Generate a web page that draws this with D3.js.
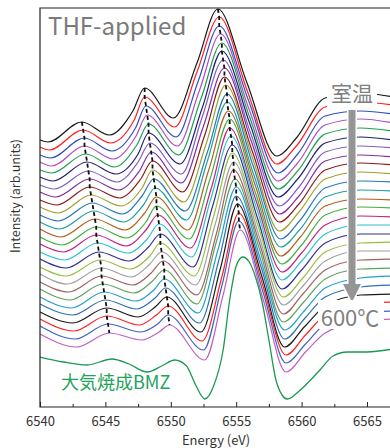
<!DOCTYPE html>
<html>
<head>
<meta charset="utf-8">
<script src="https://cdn.jsdelivr.net/npm/d3@7"></script>
<style>
  body { margin: 0; background: #fff; }
  text { font-family: "Noto Sans CJK JP", "Noto Sans", sans-serif; }
</style>
</head>
<body>
<svg id="chart" width="390" height="448"></svg>
<script>
// axis ticks (eV)
const xTicks = [6540, 6545, 6550, 6555, 6560, 6565];
const xMinorTicks = [6542.5, 6547.5, 6552.5, 6557.5, 6562.5];

// spectra from room temperature (top) down to 600 C (bottom), one entry per spectrum
const lineColors = ["#1a1a1a", "#ff2020", "#3050c0", "#b050c0", "#20a050", "#202070", "#8060c0",
  "#8030a0", "#8b1a1a", "#a0a030", "#2878b8", "#20a0a0", "#b06020", "#40b040", "#c02080",
  "#30c0d0", "#303090", "#98c040", "#a0a0a0", "#a06060", "#60a060", "#20a0d0", "#3070b0",
  "#1a1a1a", "#ff2020", "#4060c0", "#c060c0"];

// energies shared by all spectra: start, and three points on the post-edge
const sharedE = [6540, 6561.8, 6564.5, 6567];

// intensity (offset, arb. units) at 6540 eV
const startI = [267, 260, 252, 245, 237, 230, 222, 215, 207, 200, 192, 185, 178, 170, 163, 155, 148, 140, 133, 125, 118, 110, 103, 95, 88, 81, 73];
// small dip before the pre-edge shoulder
const dip0E = [6540.6, 6540.7, 6540.8, 6540.9, 6540.9, 6541.0, 6541.1, 6541.2, 6541.3, 6541.4, 6541.4, 6541.5, 6541.6, 6541.7, 6541.8, 6541.9, 6542.0, 6542.0, 6542.1, 6542.2, 6542.3, 6542.4, 6542.5, 6542.5, 6542.6, 6542.7, 6542.8];
const dip0I = [265, 257, 249, 241, 234, 226, 218, 210, 202, 194, 186, 178, 170, 162, 155, 147, 139, 131, 123, 115, 107, 99, 92, 84, 76, 68, 60];
// pre-edge peak (first dashed line)
const prePeakE = [6543.2, 6543.3, 6543.4, 6543.4, 6543.5, 6543.6, 6543.7, 6543.8, 6543.8, 6543.9, 6544.0, 6544.1, 6544.2, 6544.3, 6544.3, 6544.4, 6544.5, 6544.6, 6544.7, 6544.7, 6544.8, 6544.9, 6545.0, 6545.1, 6545.1, 6545.2, 6545.3];
const prePeakI = [285, 277, 269, 261, 253, 245, 236, 228, 220, 212, 204, 196, 188, 180, 172, 164, 155, 147, 139, 131, 123, 115, 107, 99, 91, 83, 74];
// valley after it
const dip1E = [6545.3, 6545.4, 6545.5, 6545.6, 6545.7, 6545.8, 6545.9, 6546.0, 6546.1, 6546.2, 6546.3, 6546.4, 6546.5, 6546.6, 6546.6, 6546.7, 6546.8, 6546.9, 6547.0, 6547.1, 6547.2, 6547.3, 6547.4, 6547.5, 6547.6, 6547.7, 6547.8];
const dip1I = [272, 264, 256, 248, 240, 233, 225, 217, 209, 201, 193, 185, 177, 169, 161, 154, 146, 138, 130, 122, 114, 106, 98, 90, 82, 75, 67];
const rise1E = [6547.1, 6547.2, 6547.3, 6547.3, 6547.4, 6547.5, 6547.5, 6547.6, 6547.7, 6547.8, 6547.8, 6547.9, 6548.0, 6548.1, 6548.1, 6548.2, 6548.3, 6548.4, 6548.4, 6548.5, 6548.6, 6548.7, 6548.8, 6548.8, 6548.9, 6549.0, 6549.1];
const rise1I = [296, 287, 279, 270, 262, 253, 245, 236, 228, 219, 211, 202, 194, 185, 177, 168, 160, 151, 143, 134, 126, 117, 109, 100, 92, 83, 75];
// second peak (second dashed line)
const peak2E = [6548.0, 6548.0, 6548.1, 6548.2, 6548.3, 6548.3, 6548.4, 6548.5, 6548.6, 6548.6, 6548.7, 6548.8, 6548.9, 6548.9, 6549.0, 6549.1, 6549.2, 6549.2, 6549.3, 6549.4, 6549.5, 6549.5, 6549.6, 6549.7, 6549.8, 6549.8, 6549.9];
const peak2I = [319, 310, 301, 292, 283, 274, 264, 255, 246, 237, 228, 219, 210, 201, 192, 183, 173, 164, 155, 146, 137, 128, 119, 110, 101, 92, 82];
// valley before the white line
const dip2E = [6550.2, 6550.3, 6550.4, 6550.5, 6550.6, 6550.7, 6550.8, 6550.8, 6550.9, 6551.0, 6551.1, 6551.2, 6551.3, 6551.4, 6551.5, 6551.6, 6551.7, 6551.8, 6551.9, 6552.0, 6552.0, 6552.1, 6552.2, 6552.3, 6552.4, 6552.5, 6552.6];
const dip2I = [289, 280, 270, 261, 252, 243, 233, 224, 215, 205, 196, 187, 177, 168, 159, 150, 140, 131, 122, 112, 103, 94, 84, 75, 66, 57, 47];
const rise2E = [6552.0, 6552.0, 6552.1, 6552.2, 6552.3, 6552.4, 6552.4, 6552.5, 6552.6, 6552.7, 6552.8, 6552.8, 6552.9, 6553.0, 6553.1, 6553.1, 6553.2, 6553.3, 6553.4, 6553.5, 6553.5, 6553.6, 6553.7, 6553.8, 6553.9, 6553.9, 6554.0];
const rise2I = [344, 335, 326, 317, 308, 299, 290, 281, 272, 263, 255, 246, 237, 228, 219, 210, 201, 192, 183, 174, 166, 157, 148, 139, 130, 121, 112];
// white line (third dashed line)
const mainE = [6553.6, 6553.7, 6553.7, 6553.8, 6553.9, 6553.9, 6554.0, 6554.1, 6554.1, 6554.2, 6554.3, 6554.3, 6554.4, 6554.5, 6554.5, 6554.6, 6554.7, 6554.7, 6554.8, 6554.8, 6554.9, 6555.0, 6555.0, 6555.1, 6555.2, 6555.2, 6555.3];
const mainI = [398, 390, 381, 373, 364, 356, 347, 339, 330, 322, 313, 305, 296, 288, 279, 271, 262, 254, 245, 237, 228, 220, 211, 203, 194, 186, 177];
const fallE = [6555.8, 6555.85, 6555.9, 6555.95, 6556.0, 6556.05, 6556.1, 6556.15, 6556.2, 6556.25, 6556.3, 6556.35, 6556.4, 6556.45, 6556.5, 6556.55, 6556.6, 6556.65, 6556.7, 6556.75, 6556.8, 6556.85, 6556.9, 6556.95, 6557.0, 6557.05, 6557.1];
const fallI = [325, 316, 308, 299, 291, 283, 274, 266, 257, 249, 241, 232, 224, 215, 207, 199, 190, 182, 173, 165, 157, 148, 140, 131, 123, 115, 106];
// minimum after the white line
const minE = [6558.1, 6558.1, 6558.2, 6558.2, 6558.2, 6558.2, 6558.3, 6558.3, 6558.3, 6558.3, 6558.4, 6558.4, 6558.4, 6558.5, 6558.5, 6558.5, 6558.5, 6558.6, 6558.6, 6558.6, 6558.6, 6558.7, 6558.7, 6558.7, 6558.8, 6558.8, 6558.8];
const minI = [251, 243, 234, 226, 218, 210, 201, 193, 185, 176, 168, 160, 151, 143, 135, 127, 118, 110, 102, 93, 85, 77, 68, 60, 52, 44, 35];
const postE = [6559.6, 6559.6, 6559.7, 6559.7, 6559.7, 6559.7, 6559.8, 6559.8, 6559.8, 6559.8, 6559.9, 6559.9, 6559.9, 6560.0, 6560.0, 6560.0, 6560.0, 6560.1, 6560.1, 6560.1, 6560.1, 6560.2, 6560.2, 6560.2, 6560.3, 6560.3, 6560.3];
const postI = [269, 261, 253, 244, 236, 228, 220, 211, 203, 195, 187, 178, 170, 162, 154, 146, 137, 129, 121, 113, 104, 96, 88, 80, 72, 63, 55];
// post-edge at the shared energies 6561.8, 6564.5, 6567
const tail1I = [309, 300, 291, 282, 273, 264, 255, 246, 237, 228, 219, 210, 201, 192, 182, 173, 164, 155, 146, 137, 128, 119, 110, 101, 92, 83, 74];
const tail2I = [314, 305, 296, 288, 279, 270, 261, 252, 244, 235, 226, 217, 208, 200, 191, 182, 173, 164, 156, 147, 138, 129, 120, 112, 103, 94, 85];
const tail3I = [310, 302, 293, 284, 276, 267, 259, 250, 242, 233, 225, 216, 207, 199, 190, 182, 173, 165, 156, 148, 139, 131, 122, 113, 105, 96, 88];

// BMZ fired in air (reference)
const bmzE = [6540, 6541.8, 6543.6, 6545.5, 6546.8, 6548.2, 6549.3, 6550.3, 6551.2, 6551.9, 6552.6, 6553.3, 6554.0, 6554.5, 6555.0, 6555.5, 6556.0, 6556.5, 6557.0, 6557.5, 6558.1, 6558.9, 6559.9, 6561.4, 6562.4, 6563.5, 6565, 6567];
const bmzI = [50, 45, 42, 48, 43, 35, 41, 47, 41, 22, 8, 22, 57, 107, 141, 150, 145, 129, 104, 67, 24, 8, 17, 37, 51, 55, 55, 58];

const svg = d3.select("#chart");
const x = d3.scaleLinear().domain([6540, 6565]).range([40, 367]);
const y = d3.scaleLinear().domain([0, 400]).range([407, 7]);

// build each spectrum as a list of [E, I]
const spectra = lineColors.map((c, k) => [
  [sharedE[0], startI[k]], [dip0E[k], dip0I[k]], [prePeakE[k], prePeakI[k]],
  [dip1E[k], dip1I[k]], [rise1E[k], rise1I[k]], [peak2E[k], peak2I[k]],
  [dip2E[k], dip2I[k]], [rise2E[k], rise2I[k]], [mainE[k], mainI[k]],
  [fallE[k], fallI[k]], [minE[k], minI[k]], [postE[k], postI[k]],
  [sharedE[1], tail1I[k]], [sharedE[2], tail2I[k]], [sharedE[3], tail3I[k]]
]);

const line = d3.line()
  .x(d => x(d[0]))
  .y(d => y(d[1]))
  .curve(d3.curveMonotoneX);

svg.append("g")
  .selectAll("path")
  .data(spectra)
  .join("path")
  .attr("d", line)
  .attr("fill", "none")
  .attr("stroke", (d, k) => lineColors[k])
  .attr("stroke-width", 1.2);

svg.append("path")
  .attr("d", line(bmzE.map((e, k) => [e, bmzI[k]])))
  .attr("fill", "none")
  .attr("stroke", "#1a9a50")
  .attr("stroke-width", 1.3);

// dashed guides through the peak positions
const dashLine = d3.line().x(d => x(d[0])).y(d => y(d[1]));
[[prePeakE, prePeakI], [peak2E, peak2I], [mainE, mainI]].forEach(([es, is]) => {
  svg.append("path")
    .attr("d", dashLine(es.map((e, k) => [e, is[k]])))
    .attr("fill", "none")
    .attr("stroke", "#111")
    .attr("stroke-width", 1.8)
    .attr("stroke-dasharray", "4,3");
});

// frame
svg.append("path")
  .attr("d", "M390,8H40V407H390")
  .attr("fill", "none")
  .attr("stroke", "#222")
  .attr("stroke-width", 1.2);

// x axis, ticks pointing inward
const axis = svg.append("g")
  .attr("transform", "translate(0,407)")
  .call(d3.axisBottom(x).tickValues(xTicks).tickSize(-5).tickPadding(10).tickFormat(d3.format("d")));
axis.select(".domain").remove();
axis.selectAll("line").attr("stroke", "#222");
axis.selectAll("text").attr("font-size", 13).attr("fill", "#333")
  .attr("font-family", "'Noto Sans CJK JP', sans-serif");

svg.append("g")
  .attr("transform", "translate(0,407)")
  .call(d3.axisBottom(x).tickValues(xMinorTicks).tickSize(-3).tickFormat(""))
  .call(g => g.select(".domain").remove())
  .selectAll("line").attr("stroke", "#222");

svg.append("text")
  .attr("x", 216).attr("y", 445)
  .attr("text-anchor", "middle")
  .attr("font-size", 13).attr("fill", "#333")
  .text("Energy (eV)");

svg.append("text")
  .attr("transform", "translate(20,196) rotate(-90)")
  .attr("text-anchor", "middle")
  .attr("font-size", 12.5).attr("fill", "#333")
  .text("Intensity (arb.units)");

// labels
svg.append("text")
  .attr("x", 48).attr("y", 35)
  .attr("font-family", "'Liberation Sans', Arial, sans-serif")
  .attr("font-size", 24).attr("fill", "#7a7a7a")
  .text("THF-applied");

svg.append("text")
  .attr("x", 61).attr("y", 389)
  .attr("font-size", 18).attr("fill", "#22a35a")
  .text("大気焼成BMZ");

// temperature arrow
svg.append("rect").attr("x", 327).attr("y", 79).attr("width", 50).attr("height", 28).attr("fill", "#fff");
svg.append("text")
  .attr("x", 352).attr("y", 101)
  .attr("text-anchor", "middle")
  .attr("font-size", 21).attr("fill", "#808080")
  .text("室温");

svg.append("path")
  .attr("d", "M348.5,110H355.5V284H361L352,302L343,284H348.5Z")
  .attr("fill", "#959595")
  .attr("stroke", "#fff")
  .attr("stroke-width", 3)
  .attr("paint-order", "stroke");

svg.append("rect").attr("x", 318).attr("y", 300).attr("width", 66).attr("height", 29).attr("fill", "#fff");
svg.append("text")
  .attr("x", 350).attr("y", 326)
  .attr("text-anchor", "middle")
  .attr("font-size", 22).attr("fill", "#808080")
  .text("600℃");
</script>
</body>
</html>
